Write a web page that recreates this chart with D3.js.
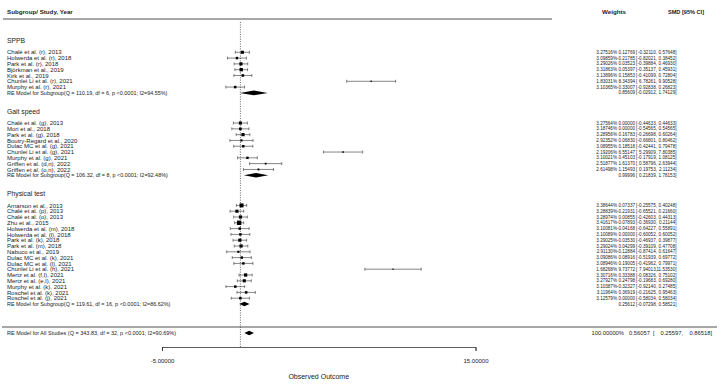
<!DOCTYPE html>
<html>
<head>
<meta charset="utf-8">
<script src="https://cdn.jsdelivr.net/npm/d3@7"></script>
<style>
    body { margin: 0; background: #fff; }
    text { font-family: "Liberation Sans", Arial, sans-serif; fill: #222; }
</style>
</head>
<body>
<div id="chart"></div>
<script>

// ---- data ----
const groupNames = ["SPPB", "Gait speed", "Physical test"];

const sppbLabels = ["Chalé et al. (r), 2013", "Holwerda et al. (r), 2018", "Park et al. (r), 2018",
    "Björkman et al., 2019", "Kirk et al., 2019", "Chunlei Li et al. (r), 2021", "Murphy et al. (r), 2021"];
const sppbWeights = [3.27516, 3.09859, 3.29026, 3.31863, 3.13896, 1.83031, 3.10365];
const sppbEst = [0.12769, -0.21785, 0.03523, 0.05397, 0.15853, 8.34394, -0.33007];
const sppbLower = [-0.32110, -0.82021, -0.39884, -0.35137, -0.41099, 6.78261, -0.92838];
const sppbUpper = [0.57648, 0.38452, 0.46930, 0.45931, 0.72804, 9.90528, 0.26823];

const gaitLabels = ["Chalé et al. (g), 2013", "Mori et al., 2018", "Park et al. (g), 2018",
    "Boutry-Regard et al., 2020", "Dulac MC et al. (g), 2021", "Chunlei Li et al. (g), 2021",
    "Murphy et al. (g), 2021", "Griffen et al. (d,n), 2022", "Griffen et al. (o,n), 2022"];
const gaitWeights = [3.27564, 3.18746, 3.28956, 2.92352, 3.08955, 2.19206, 3.10021, 2.51877, 2.61498];
const gaitEst = [0.00000, 0.00000, 0.16783, 0.06830, 0.18518, 6.55147, 0.45103, 1.61370, 1.15493];
const gaitLower = [-0.44633, -0.54565, -0.26698, -0.66801, -0.42441, 5.29909, -0.17919, 0.58796, 0.19753];
const gaitUpper = [0.44633, 0.54565, 0.60264, 0.80462, 0.79478, 7.80385, 1.08125, 2.63944, 2.11234];

const physLabels = ["Arnarson et al., 2013", "Chalé et al. (p), 2013", "Chalé et al. (o), 2013",
    "Zhu et al., 2015", "Holwerda et al. (m), 2018", "Holwerda et al. (l), 2018", "Park et al. (k), 2018",
    "Park et al. (m), 2018", "Nabuco et al., 2019", "Dulac MC et al. (k), 2021", "Dulac MC et al. (l), 2021",
    "Chunlei Li et al. (h), 2021", "Mertz et al. (f,l), 2021", "Mertz et al. (e,l), 2021",
    "Murphy et al. (k), 2021", "Roschel et al. (k), 2021", "Roschel et al. (j), 2021"];
const physWeights = [3.38644, 3.28839, 3.28974, 3.41617, 3.10081, 3.10089, 3.29025, 3.29024, 2.91130,
    3.09086, 3.08946, 1.68268, 3.30716, 3.27927, 3.10387, 3.11964, 3.12579];
const physEst = [0.07337, -0.21931, 0.00855, -0.07893, -0.04168, 0.00000, -0.03530, 0.04299, -0.12884,
    0.08916, 0.19005, 9.73772, 0.33388, 0.24798, -0.32327, 0.36919, 0.00000];
const physLower = [-0.25575, -0.65521, -0.42603, -0.36930, -0.64227, -0.60052, -0.46937, -0.39109, -0.87414,
    -0.51939, -0.41962, 7.94013, -0.08326, -0.19683, -0.92140, -0.21625, -0.58034];
const physUpper = [0.40248, 0.21660, 0.44313, 0.21144, 0.55891, 0.60052, 0.39877, 0.47708, 0.61647,
    0.69772, 0.79971, 11.53530, 0.75102, 0.69280, 0.27485, 0.95463, 0.58034];

// subgroup RE models: SPPB, Gait speed, Physical test
const reText = ["RE Model for Subgroup(Q = 110.19, df = 6, p <0.0001; I2=94.55%)",
    "RE Model for Subgroup(Q = 106.32, df = 8, p <0.0001; I2=92.48%)",
    "RE Model for Subgroup(Q = 119.61, df = 16, p <0.0001; I2=86.62%)"];
const reEst = [0.85609, 0.99996, 0.25612];
const reLower = [-0.02912, 0.21839, -0.07298];
const reUpper = [1.74129, 1.78153, 0.58521];

// overall model
const allText = "RE Model for All Studies (Q = 343.83, df = 32, p <0.0001; I2=90.69%)";
const allWeight = 100;
const allEst = 0.56057, allLower = 0.25597, allUpper = 0.86518;

const xTicks = [-5, 15];


class ForestPlot {

    constructor(parentElement) {
        this.parentElement = parentElement;
        this.initVis();
    }

    initVis() {
        let vis = this;
        vis.width = 723;
        vis.height = 387;

        vis.svg = d3.select("#" + vis.parentElement)
            .append("svg")
            .attr("width", vis.width)
            .attr("height", vis.height);

        vis.x = d3.scaleLinear().domain([-5, 15]).range([162, 475.5]);
        // row units, counted upward from the overall model row
        vis.y = d3.scaleLinear().domain([0, 1]).range([333, 327.2]);

        vis.fmt = d => d.toFixed(5);

        // build rows, bottom group first
        let groups = [
            {labels: physLabels, w: physWeights, est: physEst, lo: physLower, hi: physUpper},
            {labels: gaitLabels, w: gaitWeights, est: gaitEst, lo: gaitLower, hi: gaitUpper},
            {labels: sppbLabels, w: sppbWeights, est: sppbEst, lo: sppbLower, hi: sppbUpper}
        ];
        vis.studies = [];
        vis.summaries = [];
        vis.headers = [];
        let row = 5;
        groups.forEach((g, gi) => {
            let k = 2 - gi;
            vis.summaries.push({text: reText[k], est: reEst[k], lo: reLower[k], hi: reUpper[k], row: row});
            let n = g.labels.length;
            g.labels.forEach((lab, i) => {
                vis.studies.push({label: lab, w: g.w[i], est: g.est[i], lo: g.lo[i], hi: g.hi[i], row: row + n - i});
            });
            vis.headers.push({text: groupNames[k], row: row + n + 2});
            row = row + n + 2 + 3.2;
        });

        vis.updateVis();
    }

    updateVis() {
        let vis = this;

        // header
        vis.svg.append("text").attr("x", 7).attr("y", 14)
            .attr("font-size", 6.2).attr("font-weight", "bold")
            .text("Subgroup/ Study, Year");
        vis.svg.append("text").attr("x", 614).attr("y", 14).attr("text-anchor", "middle")
            .attr("font-size", 6.2).attr("font-weight", "bold")
            .text("Weights");
        vis.svg.append("text").attr("x", 704).attr("y", 14).attr("text-anchor", "end")
            .attr("font-size", 5.6).attr("font-weight", "bold")
            .text("SMD [95% CI]");

        vis.svg.append("line").attr("x1", 3).attr("x2", 552).attr("y1", 19).attr("y2", 19)
            .attr("stroke", "#8a8a8a").attr("stroke-width", 1.6);
        vis.svg.append("line").attr("x1", 2).attr("x2", 717).attr("y1", 327).attr("y2", 327)
            .attr("stroke", "#8a8a8a").attr("stroke-width", 1.6);

        // zero reference
        vis.svg.append("line")
            .attr("x1", vis.x(0)).attr("x2", vis.x(0)).attr("y1", 22).attr("y2", 347)
            .attr("stroke", "#222").attr("stroke-width", 0.7).attr("stroke-dasharray", "1,1.4");

        // group headers
        vis.svg.selectAll(".grp").data(vis.headers).enter().append("text")
            .attr("class", "grp")
            .attr("x", 7).attr("y", d => vis.y(d.row)).attr("dy", "0.35em")
            .attr("font-size", 6.8)
            .text(d => d.text);

        // study labels
        vis.svg.selectAll(".lab").data(vis.studies).enter().append("text")
            .attr("class", "lab")
            .attr("x", 7).attr("y", d => vis.y(d.row)).attr("dy", "0.35em")
            .attr("font-size", 6)
            .text(d => d.label);

        // CI whiskers
        let cap = 1.5;
        let ci = vis.svg.selectAll(".ci").data(vis.studies).enter().append("g").attr("class", "ci");
        ci.append("line")
            .attr("x1", d => vis.x(d.lo)).attr("x2", d => vis.x(d.hi))
            .attr("y1", d => vis.y(d.row)).attr("y2", d => vis.y(d.row));
        ci.append("line")
            .attr("x1", d => vis.x(d.lo)).attr("x2", d => vis.x(d.lo))
            .attr("y1", d => vis.y(d.row) - cap).attr("y2", d => vis.y(d.row) + cap);
        ci.append("line")
            .attr("x1", d => vis.x(d.hi)).attr("x2", d => vis.x(d.hi))
            .attr("y1", d => vis.y(d.row) - cap).attr("y2", d => vis.y(d.row) + cap);
        ci.selectAll("line").attr("stroke", "#333").attr("stroke-width", 0.6);

        // squares sized by precision
        let prec = d => 3.92 / (d.hi - d.lo);
        let size = d3.scaleLinear()
            .domain(d3.extent(vis.studies, prec))
            .range([1.3, 4.4]);
        vis.svg.selectAll(".pt").data(vis.studies).enter().append("rect")
            .attr("class", "pt")
            .attr("x", d => vis.x(d.est) - size(prec(d)) / 2)
            .attr("y", d => vis.y(d.row) - size(prec(d)) / 2)
            .attr("width", d => size(prec(d)))
            .attr("height", d => size(prec(d)))
            .attr("fill", "#000");

        // subgroup summaries
        let dh = 2.3;
        let diamond = d => {
            let yy = vis.y(d.row);
            return [[vis.x(d.lo), yy], [vis.x(d.est), yy - dh], [vis.x(d.hi), yy], [vis.x(d.est), yy + dh]].join(" ");
        };
        vis.svg.selectAll(".sumtxt").data(vis.summaries).enter().append("text")
            .attr("class", "sumtxt")
            .attr("x", 7).attr("y", d => vis.y(d.row)).attr("dy", "0.35em")
            .attr("font-size", 5.45)
            .text(d => d.text);
        vis.svg.selectAll(".dia").data(vis.summaries).enter().append("polygon")
            .attr("class", "dia")
            .attr("points", diamond)
            .attr("fill", "#000");

        // right-hand annotations (small font for the subgroup blocks)
        let annot = (sel, sz, cols, withWeight) => {
            sel.append("text").attr("x", cols[1]).attr("text-anchor", "end").attr("font-size", sz)
                .text(d => vis.fmt(d.est));
            sel.append("text").attr("x", cols[2]).attr("font-size", sz).text("[");
            sel.append("text").attr("x", cols[3]).attr("text-anchor", "end").attr("font-size", sz)
                .text(d => vis.fmt(d.lo) + ",");
            sel.append("text").attr("x", cols[4]).attr("text-anchor", "end").attr("font-size", sz)
                .text(d => vis.fmt(d.hi) + "]");
            if (withWeight) {
                sel.append("text").attr("x", cols[0]).attr("text-anchor", "end").attr("font-size", sz)
                    .text(d => vis.fmt(d.w) + "%");
            }
            sel.selectAll("text").attr("y", d => vis.y(d.row)).attr("dy", "0.35em");
        };
        let smallCols = [617, 635, 636, 657, 676.5];
        annot(vis.svg.selectAll(".ann").data(vis.studies).enter().append("g").attr("class", "ann"),
            4.6, smallCols, true);
        annot(vis.svg.selectAll(".sann").data(vis.summaries).enter().append("g").attr("class", "sann"),
            4.6, smallCols, false);

        // overall model
        let all = [{text: allText, w: allWeight, est: allEst, lo: allLower, hi: allUpper, row: 0}];
        vis.svg.selectAll(".alltxt").data(all).enter().append("text")
            .attr("class", "alltxt")
            .attr("x", 7).attr("y", d => vis.y(d.row)).attr("dy", "0.35em")
            .attr("font-size", 5.5)
            .text(d => d.text);
        vis.svg.selectAll(".alldia").data(all).enter().append("polygon")
            .attr("class", "alldia")
            .attr("points", diamond)
            .attr("fill", "#000");
        annot(vis.svg.selectAll(".aann").data(all).enter().append("g").attr("class", "aann"),
            5.8, [624, 650, 653, 683, 712], true);

        // axis
        let axis = d3.axisBottom(vis.x)
            .tickValues(xTicks)
            .tickFormat(d => d.toFixed(5))
            .tickSize(4)
            .tickPadding(8);
        let ax = vis.svg.append("g")
            .attr("transform", "translate(0,347)")
            .call(axis);
        ax.selectAll("path, line").attr("stroke", "#333").attr("stroke-width", 0.8);
        ax.selectAll("text").attr("font-size", 6)
            .attr("font-family", "Liberation Sans, Arial, sans-serif").attr("fill", "#222");

        vis.svg.append("text")
            .attr("x", (vis.x(-5) + vis.x(15)) / 2).attr("y", 379)
            .attr("text-anchor", "middle").attr("font-size", 7)
            .text("Observed Outcome");
    }
}

let forest = new ForestPlot("chart");

</script>
</body>
</html>
